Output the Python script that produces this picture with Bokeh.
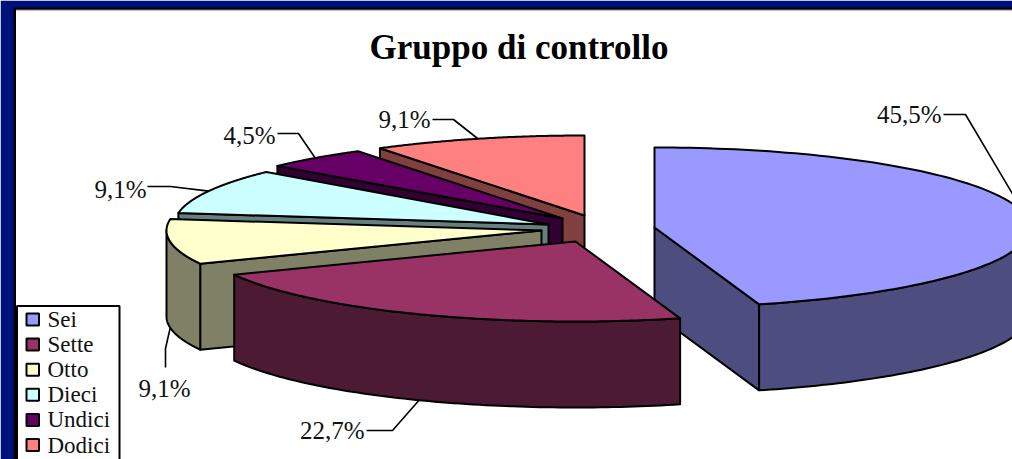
import numpy as np
from bokeh.plotting import figure
from bokeh.core.properties import value
from bokeh.embed import file_html
from bokeh.resources import INLINE

# ---- data ----
categories = ["Sei", "Sette", "Otto", "Dieci", "Undici", "Dodici"]
percent = [45.5, 22.7, 9.1, 9.1, 4.5, 9.1]
pct_labels = ["45,5%", "22,7%", "9,1%", "9,1%", "4,5%", "9,1%"]
title_text = "Gruppo di controllo"

# ---- styles ----
top_colors = ["#9999FF", "#993366", "#FFFFCC", "#CCFFFF", "#660066", "#FF8080"]
side_colors = ["#4D4D80", "#4D1A33", "#808066", "#668080", "#330033", "#804040"]
NAVY = "#00107A"
FONT = value("Liberation Serif")

# ---- layout (pixel-like scale of the figure) ----
W, H = 1012, 459
CX, CY = 603, 229
RY, DEPTH = 80, 86
radius_x = [375, 375, 375, 374, 378, 378]
explode_x = [51, -28, -62, -55, -41, -19]
explode_y = [-2, 12, 1, -5, -11, -14]
draw_order = [5, 4, 3, 2, 0, 1]
label_right = [941, 364, 190, 146, 275, 430]
label_y = [114, 430, 388, 189, 135, 119]
# leader: starts at (lead_x, lead_y), bends at (bend_x, bend_y), ends on the rim
lead_x = [943, 366, 165, 147, 277, 432]
lead_y = [114, 430, 367, 186, 133, 119]
bend_x = [965, 392, 165, 170, 298, 453]
bend_y = [114, 430, 348, 186, 133, 119]

p = figure(width=W, height=H, x_range=(0, W), y_range=(H, 0),
           toolbar_location=None, output_backend="svg", min_border=0,
           outline_line_color=None, border_fill_color=NAVY)
p.axis.visible = False
p.grid.visible = False

# frame
p.quad(left=0, right=W, top=0, bottom=H, fill_color=NAVY, line_color=None)
p.quad(left=13, right=W + 5, top=7, bottom=H + 5, fill_color="black", line_color=None)
p.quad(left=15.5, right=W + 5, top=9, bottom=H + 5, fill_color="#808080", line_color=None)
p.quad(left=15.5, right=W + 5, top=10, bottom=H + 5, fill_color="white", line_color=None)

total = sum(percent)
edges = np.concatenate([[0], np.cumsum(percent)]) / total * 2 * np.pi
LW = 2


def pt(i, t, drop=0.0):
    ax = CX + explode_x[i]
    ay = CY + explode_y[i]
    return ax + radius_x[i] * np.sin(t), ay - RY * np.cos(t) + drop


def face(xs, ys, color):
    p.patch(list(xs), list(ys), fill_color=color, line_color="black",
            line_width=LW, line_join="round")


for i in draw_order:
    a, b = edges[i], edges[i + 1]
    ax, ay = CX + explode_x[i], CY + explode_y[i]
    # visible cut faces
    for t, vis in ((a, np.sin(a) < -1e-6), (b, np.sin(b) > 1e-6)):
        if vis:
            ex, ey = pt(i, t)
            face([ax, ex, ex, ax], [ay, ey, ey + DEPTH, ay + DEPTH], side_colors[i])
    # outer wall (front part of the rim only)
    lo, hi = max(a, np.pi / 2), min(b, 3 * np.pi / 2)
    if lo < hi:
        ts = np.linspace(lo, hi, 80)
        xs, ys = pt(i, ts)
        face(np.r_[xs, xs[::-1]], np.r_[ys, ys[::-1] + DEPTH], side_colors[i])
    # top face
    ts = np.linspace(a, b, 120)
    xs, ys = pt(i, ts)
    face(np.r_[ax, xs], np.r_[ay, ys], top_colors[i])

# leaders and value labels
for i, lab in enumerate(pct_labels):
    mid = (edges[i] + edges[i + 1]) / 2
    drop = DEPTH if np.cos(mid) < 0 and i != 0 else 0
    ex, ey = pt(i, mid, drop)
    p.line([lead_x[i], bend_x[i], ex], [lead_y[i], bend_y[i], ey],
           line_color="black", line_width=1.6)

p.text(x=label_right, y=label_y, text=pct_labels, text_font=FONT, text_font_size="25px",
       text_align="right", text_baseline="middle", text_color="#111111")

p.text(x=[518.5], y=[47], text=[title_text], text_font=FONT, text_font_size="35px",
       text_font_style="bold", text_align="center", text_baseline="middle", text_color="black")

# legend
LEFT, TOP, RIGHT = 16.5, 305.5, 119
p.quad(left=LEFT, right=RIGHT, top=TOP, bottom=H + 5, fill_color="white",
       line_color="black", line_width=2)
rows = [319 + 25.1 * k for k in range(len(categories))]
p.quad(left=26, right=38.5, top=[r - 6 for r in rows], bottom=[r + 6 for r in rows],
       fill_color=top_colors, line_color="black", line_width=2)
p.text(x=47, y=rows, text=categories, text_font=FONT, text_font_size="23px",
       text_align="left", text_baseline="middle", text_color="#111111")

html = file_html(p, INLINE)
html = html.replace("<head>", "<head><style>html,body{margin:0;padding:0;overflow:hidden;background:#fff}</style>", 1)
open("out.html", "w").write(html)
